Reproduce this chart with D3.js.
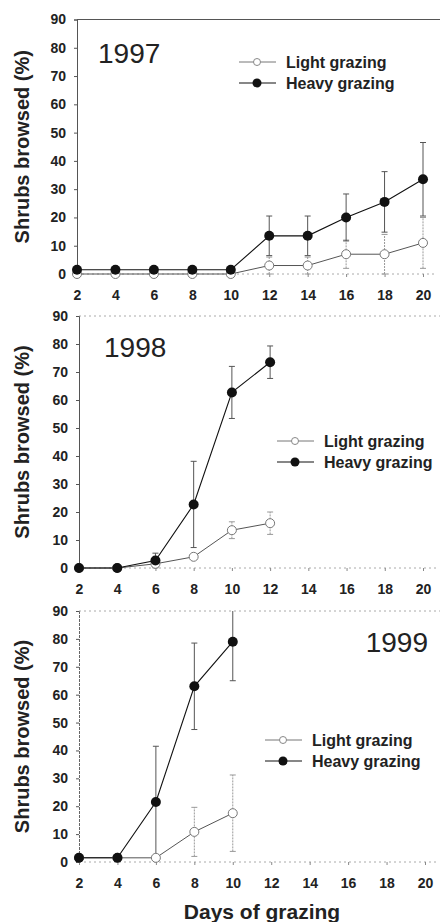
<!DOCTYPE html>
<html>
<head>
<meta charset="utf-8">
<script src="https://cdn.jsdelivr.net/npm/d3@7"></script>
<style>
  body { margin: 0; background: #fff; }
  svg { display: block; font-family: "Liberation Sans", Arial, sans-serif; }
</style>
</head>
<body>
<svg id="chart" width="442" height="922"></svg>
<script>
// data
const days = [2, 4, 6, 8, 10, 12, 14, 16, 18, 20];
const yTicks = [0, 10, 20, 30, 40, 50, 60, 70, 80, 90];
const years = ["1997", "1998", "1999"];
const seriesNames = ["Light grazing", "Heavy grazing"];

const light1997 = [0, 0, 0, 0, 0, 3, 3, 7, 7, 11];
const lightErr1997 = [0, 0, 0, 0, 0, 3, 3, 5, 7, 9];
const heavy1997 = [1.5, 1.5, 1.5, 1.5, 1.5, 13.5, 13.5, 20, 25.5, 33.5];
const heavyErr1997 = [0, 0, 0, 0, 0, 7, 7, 8.3, 10.7, 13];

const light1998 = [0, 0, 1.5, 4, 13.5, 16];
const lightErr1998 = [0, 0, 1, 0.5, 3, 4];
const heavy1998 = [0, 0, 2.7, 22.7, 62.7, 73.5];
const heavyErr1998 = [0, 0, 2.6, 15.4, 9.3, 5.8];

const light1999 = [1.5, 1.5, 1.5, 10.8, 17.5];
const lightErr1999 = [0, 0, 0, 8.8, 13.7];
const heavy1999 = [1.5, 1.5, 21.5, 63, 79];
const heavyErr1999 = [0, 0, 20, 15.5, 14];

const lightData = [light1997, light1998, light1999];
const lightErrData = [lightErr1997, lightErr1998, lightErr1999];
const heavyData = [heavy1997, heavy1998, heavy1999];
const heavyErrData = [heavyErr1997, heavyErr1998, heavyErr1999];

// panel layout
const panels = [
  { left: 77, right: 423, top: 19.5, bottom: 274, frame: "solid",
    yearX: 98, yearY: 63, yearAnchor: "start", legX: 239, legY: 62 },
  { left: 79, right: 423, top: 316, bottom: 568, frame: "dotted",
    yearX: 104, yearY: 357, yearAnchor: "start", legX: 277, legY: 441 },
  { left: 79, right: 425, top: 611, bottom: 862, frame: "dotted",
    yearX: 428, yearY: 652, yearAnchor: "end", legX: 265, legY: 740 }
];

const svg = d3.select("#chart");

panels.forEach(function(p, i) {
  const x = d3.scaleLinear().domain([2, 20]).range([p.left, p.right]);
  const y = d3.scaleLinear().domain([0, 90]).range([p.bottom, p.top]);
  const g = svg.append("g");

  // frame lines
  g.append("line")
    .attr("x1", p.left).attr("x2", 440)
    .attr("y1", p.top).attr("y2", p.top)
    .attr("stroke", p.frame === "solid" ? "#555" : "#aaa")
    .attr("stroke-width", 1)
    .attr("stroke-dasharray", p.frame === "solid" ? null : "2,3");

  g.append("line")
    .attr("x1", p.left).attr("x2", 436)
    .attr("y1", p.bottom).attr("y2", p.bottom)
    .attr("stroke", "#aaa")
    .attr("stroke-dasharray", "2,3");

  // y axis
  const yAxis = d3.axisLeft(y).tickValues(yTicks).tickSize(3).tickPadding(8);
  const ya = g.append("g")
    .attr("transform", `translate(${p.left},0)`)
    .call(yAxis);
  ya.select(".domain").attr("stroke", i === 2 ? "#666" : "#555")
    .attr("stroke-dasharray", i === 2 ? "3,1" : null);
  ya.selectAll(".tick line").attr("stroke", "#555");
  ya.selectAll(".tick text")
    .attr("font-size", 14).attr("font-weight", "bold")
    .attr("fill", "#222")
    .attr("font-family", "'Liberation Sans', Arial, sans-serif");

  // x axis
  const xAxis = d3.axisBottom(x).tickValues(days).tickSize(3).tickPadding(13);
  const xa = g.append("g")
    .attr("transform", `translate(0,${p.bottom})`)
    .call(xAxis);
  xa.select(".domain").remove();
  xa.selectAll(".tick line").attr("stroke", "#888");
  xa.selectAll(".tick text")
    .attr("font-size", 14).attr("font-weight", "bold")
    .attr("fill", "#222")
    .attr("font-family", "'Liberation Sans', Arial, sans-serif");

  // y title
  g.append("text")
    .attr("transform", `translate(29,${(p.top + p.bottom) / 2}) rotate(-90)`)
    .attr("text-anchor", "middle")
    .attr("font-size", 20).attr("font-weight", "bold")
    .attr("fill", "#222")
    .text("Shrubs browsed (%)");

  // year label
  g.append("text")
    .attr("x", p.yearX).attr("y", p.yearY)
    .attr("text-anchor", p.yearAnchor)
    .attr("font-size", 28)
    .attr("fill", "#222")
    .text(years[i]);

  const clipId = "clip" + i;
  svg.append("clipPath").attr("id", clipId)
    .append("rect")
    .attr("x", p.left - 10).attr("y", p.top)
    .attr("width", p.right - p.left + 20).attr("height", p.bottom - p.top + 10);

  const plot = g.append("g").attr("clip-path", `url(#${clipId})`);

  const lightPts = lightData[i].map((v, k) => ({ d: days[k], v: v, e: lightErrData[i][k] }));
  const heavyPts = heavyData[i].map((v, k) => ({ d: days[k], v: v, e: heavyErrData[i][k] }));

  function errorBars(pts, color, dash) {
    const eb = plot.selectAll(null).data(pts.filter(d => d.e > 0)).enter().append("g");
    eb.append("line")
      .attr("x1", d => x(d.d)).attr("x2", d => x(d.d))
      .attr("y1", d => y(Math.max(0, d.v - d.e))).attr("y2", d => y(d.v + d.e))
      .attr("stroke", color).attr("stroke-dasharray", dash);
    eb.append("line")
      .attr("x1", d => x(d.d) - 3).attr("x2", d => x(d.d) + 3)
      .attr("y1", d => y(d.v + d.e)).attr("y2", d => y(d.v + d.e))
      .attr("stroke", color);
    eb.append("line")
      .attr("x1", d => x(d.d) - 3).attr("x2", d => x(d.d) + 3)
      .attr("y1", d => y(Math.max(0, d.v - d.e))).attr("y2", d => y(Math.max(0, d.v - d.e)))
      .attr("stroke", color);
  }

  errorBars(lightPts, "#999", "2,1");
  errorBars(heavyPts, "#555", null);

  const line = d3.line().x(d => x(d.d)).y(d => y(d.v));

  plot.append("path").datum(lightPts)
    .attr("d", line).attr("fill", "none")
    .attr("stroke", "#555").attr("stroke-width", 1);
  plot.append("path").datum(heavyPts)
    .attr("d", line).attr("fill", "none")
    .attr("stroke", "#111").attr("stroke-width", 1.1);

  plot.selectAll(null).data(lightPts).enter().append("circle")
    .attr("cx", d => x(d.d)).attr("cy", d => y(d.v)).attr("r", 4.5)
    .attr("fill", "#fff").attr("stroke", "#777").attr("stroke-width", 1);
  plot.selectAll(null).data(heavyPts).enter().append("circle")
    .attr("cx", d => x(d.d)).attr("cy", d => y(d.v)).attr("r", 5)
    .attr("fill", "#111");

  // legend
  const leg = g.append("g").attr("transform", `translate(${p.legX},${p.legY})`);
  seriesNames.forEach(function(name, k) {
    const row = leg.append("g").attr("transform", `translate(0,${k * 21})`);
    row.append("line").attr("x1", 0).attr("x2", 37).attr("y1", 0).attr("y2", 0)
      .attr("stroke", k === 0 ? "#777" : "#111").attr("stroke-width", k === 0 ? 1 : 1.2);
    row.append("circle").attr("cx", 18).attr("cy", 0).attr("r", k === 0 ? 3.5 : 4.5)
      .attr("fill", k === 0 ? "#fff" : "#111").attr("stroke", k === 0 ? "#888" : "none");
    row.append("text").attr("x", 47).attr("y", 0).attr("dy", "0.35em")
      .attr("font-size", 16).attr("font-weight", "bold").attr("fill", "#222")
      .text(name);
  });
});

// x title
svg.append("text")
  .attr("x", 262).attr("y", 919)
  .attr("text-anchor", "middle")
  .attr("font-size", 21).attr("font-weight", "bold")
  .attr("fill", "#222")
  .text("Days of grazing");
</script>
</body>
</html>
